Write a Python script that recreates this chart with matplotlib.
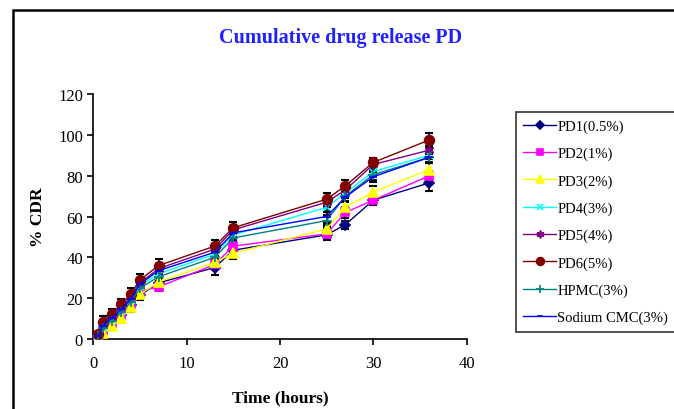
import matplotlib.pyplot as plt
from matplotlib.patches import Rectangle

plt.rcParams['font.family'] = ['Liberation Serif', 'DejaVu Serif']

# sampling times (hours)
time = [0.5, 1, 2, 3, 4, 5, 7, 13, 15, 25, 27, 30, 36]

# % CDR for each formulation
pd1 = [1, 4.5, 8.5, 12, 16.5, 21.5, 27.5, 35, 43.5, 51, 56, 68, 76.5]
pd2 = [1, 4, 8, 12, 17, 23.5, 25.5, 36.5, 45.5, 51.5, 62, 68, 80]
pd3 = [0.5, 3, 6.5, 10.5, 15.5, 22, 28, 37.5, 42, 54, 64.5, 72, 83]
pd4 = [1.5, 6, 10, 14, 19, 26, 32, 41.5, 51, 64.5, 71.5, 82, 90]
pd5 = [2, 7, 11, 15.5, 20.5, 27.5, 34.5, 44, 53.5, 67, 73, 85.5, 92.5]
pd6 = [2.5, 8.5, 12.3, 17, 22, 29, 36, 45.5, 54.5, 68.5, 75, 86.5, 97.5]
hpmc = [1.5, 5.5, 9, 13, 18, 25, 30.5, 40, 49.5, 58, 70, 80.5, 89]
cmc = [1.5, 6.5, 10.5, 14.5, 19.5, 27, 33.5, 42.5, 52, 60, 69.5, 79.5, 89]

# standard deviations
err1 = [1, 1.5, 2, 2, 2.5, 2.5, 2.5, 3.5, 2.5, 2.5, 2, 2.5, 4]
err2 = [1, 1.5, 1.5, 2, 2, 2, 2, 2, 2.5, 3, 2.5, 2, 2.5]
err3 = [1, 1.5, 1.5, 2, 2.5, 2, 2, 2, 3, 2.5, 2.5, 3, 3]
err4 = [1, 1.5, 1.5, 1.5, 2, 2, 2, 2, 2, 2.5, 2.5, 2, 2]
err5 = [1, 1.5, 1.5, 2, 2, 2, 2, 2, 2, 2.5, 2.5, 2, 2]
err6 = [1, 3, 2.5, 2.5, 3, 3, 3, 3, 3, 3, 3, 2, 3.5]
err7 = [1, 1.5, 1.5, 2, 2, 2, 2, 2, 2, 2.5, 2.5, 2.5, 3]
err8 = [1, 1.5, 1.5, 2, 2, 2, 2, 2, 2, 2.5, 2.5, 2.5, 2.5]

series = [
    ("PD1(0.5%)", pd1, err1, "#000080", "D", 5),
    ("PD2(1%)", pd2, err2, "#FF00FF", "s", 6),
    ("PD3(2%)", pd3, err3, "#FFFF00", "^", 7),
    ("PD4(3%)", pd4, err4, "#00FFFF", "x", 6),
    ("PD5(4%)", pd5, err5, "#800080", (6, 2, 0), 7),
    ("PD6(5%)", pd6, err6, "#800000", "o", 7),
    ("HPMC(3%)", hpmc, err7, "#008080", "+", 7),
    ("Sodium CMC(3%)", cmc, err8, "#0000FF", "_", 6),
]

fig = plt.figure(figsize=(6.74, 4.10), dpi=100)
ax = fig.add_axes([0.1385, 0.1707, 0.5539, 0.5976])

for label, y, e, col, mk, ms in series:
    ax.errorbar(time, y, yerr=e, fmt="none", ecolor="black", elinewidth=1.2,
                capsize=3, capthick=1.5, zorder=2)
for label, y, e, col, mk, ms in series:
    ax.plot(time, y, color=col, marker=mk, markersize=ms, lw=1,
            markeredgecolor=col, markeredgewidth=1.2, label=label, zorder=3)

ax.set_xlim(0, 40)
ax.set_ylim(0, 120)
ax.set_xticks([0, 10, 20, 30, 40])
ax.set_yticks([0, 20, 40, 60, 80, 100, 120])
ax.spines['top'].set_visible(False)
ax.spines['right'].set_visible(False)
ax.spines['left'].set_linewidth(1.2)
ax.spines['bottom'].set_linewidth(1.2)
ax.tick_params(direction='out', length=4, width=1.2, labelsize=12, colors='black')
ax.tick_params(axis='x', pad=7.5)
ax.set_xlabel("Time (hours)", fontsize=12.5, fontweight='bold', labelpad=13)
ax.set_ylabel("% CDR", fontsize=12.5, fontweight='bold', labelpad=9)

fig.text(0.506, 0.908, "Cumulative drug release PD", ha='center', va='center',
         fontsize=14.5, fontweight='bold', color='#2020FF')

leg = ax.legend(loc='upper left', bbox_to_anchor=(0.765, 0.7237),
                bbox_transform=fig.transFigure, fontsize=10.5, frameon=True,
                fancybox=False, edgecolor='black', labelspacing=0.95,
                handlelength=2.3, handletextpad=0.05, borderpad=0.5,
                borderaxespad=0, markerscale=0.8)
leg.get_frame().set_linewidth(1.2)

fig.patches.append(Rectangle((13 / 674, -0.2), 2, 1.2 - 11 / 410, transform=fig.transFigure,
                             fill=False, edgecolor='black', lw=1.8))

fig.savefig("out.png", dpi=100)
